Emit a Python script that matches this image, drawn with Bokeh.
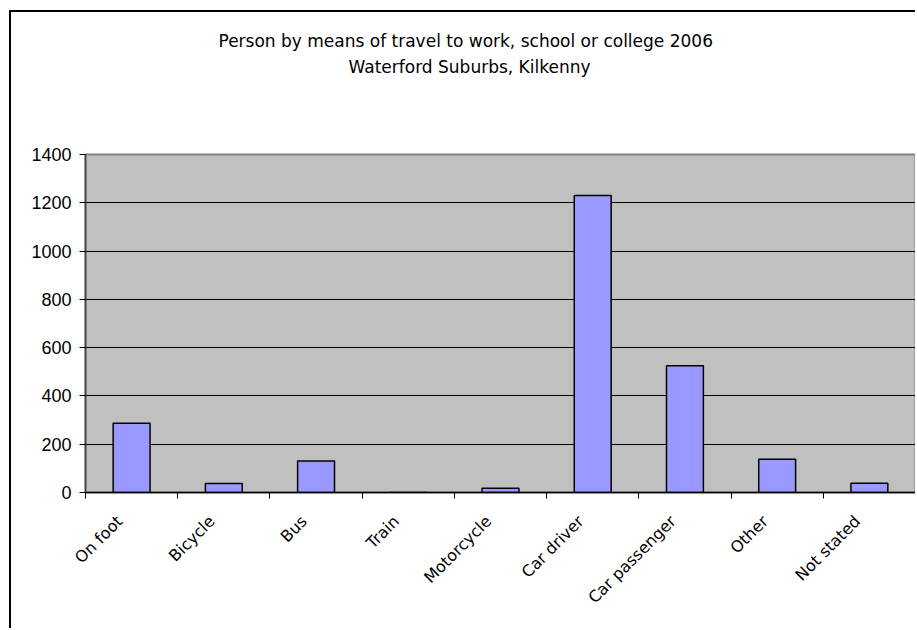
import math
from bokeh.plotting import figure
from bokeh.models import Range1d, FixedTicker, Title, ColumnDataSource, CustomJSTickFormatter
from bokeh.embed import file_html
from bokeh.resources import INLINE

categories = ["On foot", "Bicycle", "Bus", "Train", "Motorcycle", "Car driver",
              "Car passenger", "Other", "Not stated"]
values = [287, 37, 130, 0, 18, 1230, 525, 138, 38]
y_ticks = [0, 200, 400, 600, 800, 1000, 1200, 1400]
title_lines = ["Person by means of travel to work, school or college 2006",
               "Waterford Suburbs, Kilkenny"]

idx = list(range(len(categories)))
src = ColumnDataSource(dict(x=idx, top=values, cat=categories))

p = figure(width=906, height=618, output_backend="svg", toolbar_location=None,
           title_location=None,
           x_range=Range1d(-0.5, len(categories) - 0.5), y_range=Range1d(0, 1400),
           min_border_left=74, min_border_right=2, min_border_top=142, min_border_bottom=138,
           margin=(10, 0, 0, 9),
           styles={"border-left": "2px solid black", "border-top": "2px solid black"})
p.background_fill_color = "#C0C0C0"
p.border_fill_color = "white"
p.outline_line_color = "#808080"
p.outline_line_width = 2

p.vbar(x="x", top="top", width=0.4, source=src, fill_color="#9999FF",
       line_color="black", line_width=1.5)

p.xgrid.grid_line_color = None
p.ygrid.grid_line_color = "black"
p.ygrid.grid_line_width = 1

label_shift = 0.13  # labels sit slightly left of the category centre, as in the reference
xa = p.xaxis[0]
xa.ticker = FixedTicker(ticks=[i - label_shift for i in idx],
                        minor_ticks=[i - 0.5 for i in range(len(categories) + 1)])
xa.formatter = CustomJSTickFormatter(args=dict(names=categories),
                                     code="return names[Math.round(tick)]")
xa.major_tick_line_color = None
xa.minor_tick_out = 6
xa.minor_tick_in = 0
xa.minor_tick_line_color = "black"
xa.axis_line_color = "black"
xa.axis_line_width = 1.5
xa.major_label_orientation = math.pi / 4
xa.major_label_text_font = "DejaVu Sans"
xa.major_label_text_font_size = "16px"
xa.major_label_text_color = "black"
xa.major_label_standoff = 20

ya = p.yaxis[0]
ya.ticker = FixedTicker(ticks=y_ticks, minor_ticks=[])
ya.major_tick_out = 6
ya.major_tick_in = 0
ya.major_tick_line_color = "black"
ya.axis_line_color = "#404040"
ya.axis_line_width = 1.5
ya.major_label_text_font = "Liberation Sans"
ya.major_label_text_font_size = "18px"
ya.major_label_text_color = "black"
ya.major_label_standoff = 8

title_style = dict(align="left", text_font="DejaVu Sans", text_font_size="17px",
                   text_font_style="normal", text_color="black")
# panels stack outward from the frame: spacer, second line, first line
p.add_layout(Title(text=" ", standoff=54, **title_style), "above")
p.add_layout(Title(text=title_lines[1], standoff=4, offset=263, **title_style), "above")
p.add_layout(Title(text=title_lines[0], standoff=4, offset=133, **title_style), "above")

open("out.html", "w").write(file_html(p, INLINE))
